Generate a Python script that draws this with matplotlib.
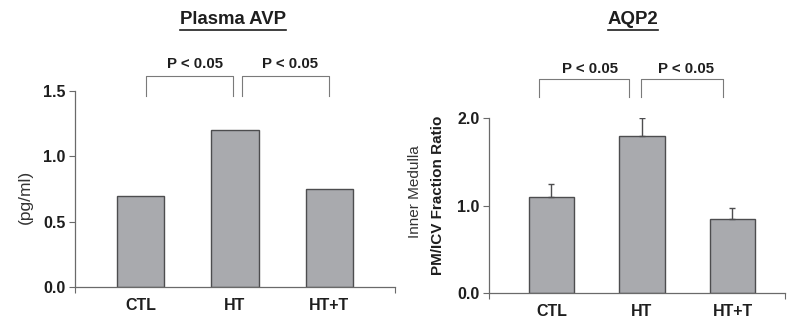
import matplotlib
matplotlib.use('Agg')
import matplotlib.pyplot as plt
from matplotlib.lines import Line2D

groups = ['CTL', 'HT', 'HT+T']
avp = [0.70, 1.20, 0.75]
aqp2 = [1.10, 1.80, 0.85]
aqp2_err = [0.15, 0.20, 0.12]
avp_ticks = [0.0, 0.5, 1.0, 1.5]
aqp2_ticks = [0.0, 1.0, 2.0]
p_label = 'P < 0.05'

BAR = '#a9aaae'
EDGE = '#4d4d4f'
TXT = '#1e1e1e'
LINE = '#6a6a6a'

plt.rcParams.update({'font.family': ['Liberation Sans', 'DejaVu Sans'], 'font.size': 11.5})

fig = plt.figure(figsize=(7.9, 3.2), dpi=100, facecolor='white')
ax1 = fig.add_axes([75/790, 1-287/320, 320/790, 196/320])
ax2 = fig.add_axes([489/790, 1-293/320, 296/790, 175/320])


def style(ax, ticks, xlim):
    x = range(len(groups))
    ax.set_xlim(*xlim)
    ax.set_ylim(0, ticks[-1])
    ax.set_yticks(ticks, [f'{t:.1f}' for t in ticks], fontweight='bold', color=TXT, fontsize=11.5)
    ax.set_xticks(list(x), groups, fontweight='bold', color=TXT, fontsize=11.5)
    ax.tick_params(axis='x', length=0, pad=8)
    ax.tick_params(axis='y', direction='out', length=4, width=0.8, color=LINE, pad=3)
    ax.set_xticks(list(xlim), minor=True)
    ax.tick_params(axis='x', which='minor', length=4, width=0.8, color=LINE)
    ax.spines[['top', 'right']].set_visible(False)
    for s in ['left', 'bottom']:
        ax.spines[s].set_color(LINE)
        ax.spines[s].set_linewidth(0.9)


def bracket(ax, x0, x1, ytop, ybot, ytxt, xtxt):
    ax.plot([x0, x0, x1, x1], [ybot, ytop, ytop, ybot], color='#7a7a7a', lw=0.8, clip_on=False)
    ax.text(xtxt, ytxt, p_label, ha='center', va='center', fontsize=10.8,
            fontweight='bold', color=TXT, clip_on=False)


# left panel: plasma AVP
x = range(len(groups))
ax1.bar(x, avp, width=0.5, color=BAR, edgecolor=EDGE, linewidth=1)
style(ax1, avp_ticks, (-0.70, 2.70))
fig.text(25/790, 1-197/320, '(pg/ml)', rotation=90, ha='center', va='center',
         fontsize=12.5, color='#333333')
bracket(ax1, 0.05, 0.98, 1.615, 1.46, 1.71, 0.57)
bracket(ax1, 1.07, 2.0, 1.615, 1.46, 1.71, 1.585)

# right panel: AQP2
ax2.bar(x, aqp2, width=0.5, color=BAR, edgecolor=EDGE, linewidth=1,
        yerr=[[0]*len(aqp2_err), aqp2_err], capsize=2.5,
        error_kw={'ecolor': EDGE, 'elinewidth': 1, 'capthick': 1})
style(ax2, aqp2_ticks, (-0.69, 2.58))
bracket(ax2, -0.14, 0.86, 2.45, 2.24, 2.565, 0.43)
bracket(ax2, 0.99, 1.90, 2.45, 2.24, 2.565, 1.485)
fig.text(415/790, 1-192/320, 'Inner Medulla', rotation=90, ha='center', va='center',
         fontsize=11, color='#333333')
fig.text(438/790, 1-195/320, 'PM/ICV Fraction Ratio', rotation=90, ha='center', va='center',
         fontsize=11, fontweight='bold', color=TXT)

# underlined titles
titles = []
for xc, label in [(233, 'Plasma AVP'), (633, 'AQP2')]:
    titles.append(fig.text(xc/790, 1-19/320, label, ha='center', va='center',
                           fontsize=13.4, fontweight='bold', color=TXT))
fig.canvas.draw()
r = fig.canvas.get_renderer()
for t in titles:
    bb = t.get_window_extent(renderer=r).transformed(fig.transFigure.inverted())
    yline = 1-29.5/320
    fig.add_artist(Line2D([bb.x0, bb.x1], [yline, yline], color=TXT, lw=1.2,
                          transform=fig.transFigure))

fig.savefig('out.png', dpi=100)
